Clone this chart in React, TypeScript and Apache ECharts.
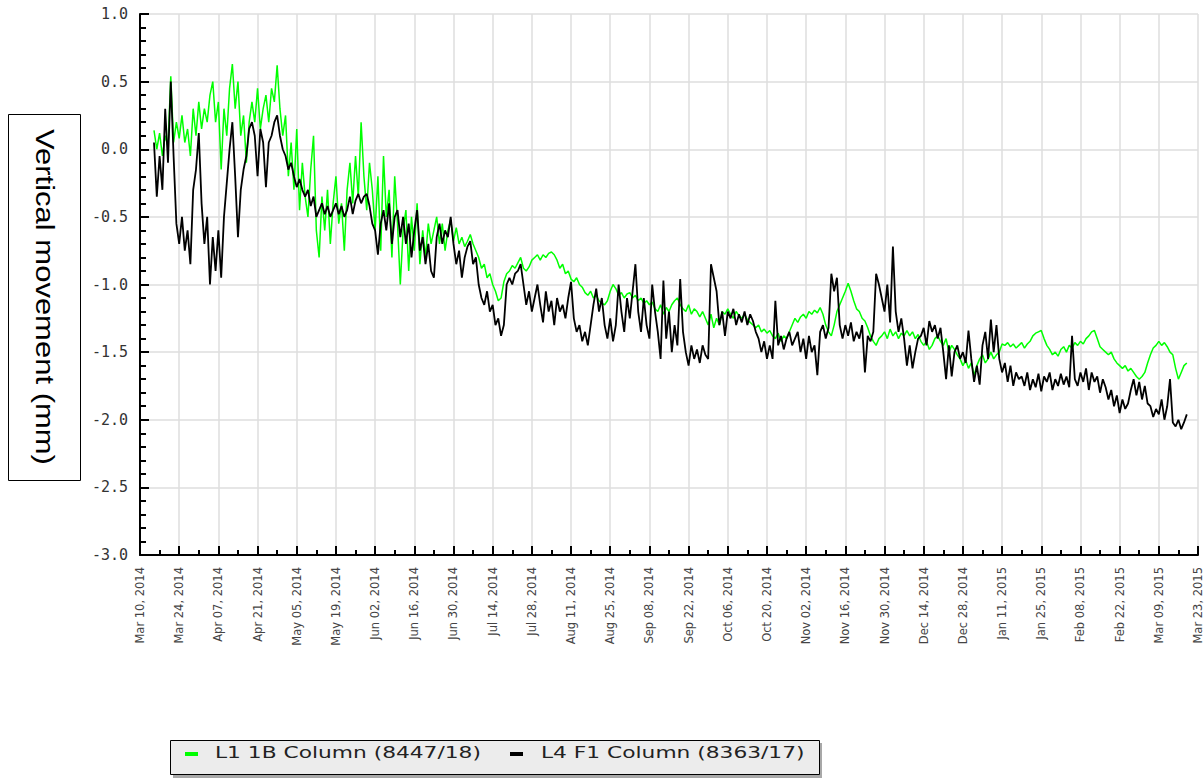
import React, { useEffect, useRef } from "react";
import * as echarts from "echarts";

// Tick labels of the date axis (one every 14 days, starting Mar 10, 2014)
const xTickLabels = [
  "Mar 10, 2014", "Mar 24, 2014", "Apr 07, 2014", "Apr 21, 2014", "May 05, 2014",
  "May 19, 2014", "Jun 02, 2014", "Jun 16, 2014", "Jun 30, 2014", "Jul 14, 2014",
  "Jul 28, 2014", "Aug 11, 2014", "Aug 25, 2014", "Sep 08, 2014", "Sep 22, 2014",
  "Oct 06, 2014", "Oct 20, 2014", "Nov 02, 2014", "Nov 16, 2014", "Nov 30, 2014",
  "Dec 14, 2014", "Dec 28, 2014", "Jan 11, 2015", "Jan 25, 2015", "Feb 08, 2015",
  "Feb 22, 2015", "Mar 09, 2015", "Mar 23, 2015",
];

const seriesNames = ["L1 1B Column (8447/18)", "L4 F1 Column (8363/17)"];
const seriesColors = ["#00ff00", "#000000"];

// first reading: day 5 after Mar 10, 2014 (one value per day)
const startDay = 5;

// L1 1B Column (green), mm
const l1Values = [
  0.14, 0.0, 0.12, -0.05, 0.1, 0.02, 0.54, 0.05, 0.2, 0.08,
  0.25, 0.05, 0.15, -0.05, 0.3, 0.1, 0.35, 0.15, 0.3, 0.2,
  0.4, 0.5, 0.2, 0.35, -0.15, 0.3, 0.1, 0.45, 0.63, 0.3,
  0.5, 0.1, 0.25, -0.1, 0.2, 0.35, 0.2, 0.45, 0.15, 0.3,
  0.4, 0.2, 0.45, 0.35, 0.62, 0.3, 0.1, 0.25, -0.2, 0.05,
  -0.3, 0.15, -0.45, -0.1, -0.35, -0.5, -0.15, 0.1, -0.6, -0.8,
  -0.35, -0.6, -0.3, -0.7, -0.4, -0.2, -0.55, -0.4, -0.75, -0.3,
  -0.1, -0.4, -0.05, -0.35, 0.2, -0.2, -0.45, -0.1, -0.3, -0.6,
  -0.2, -0.75, -0.05, -0.5, -0.3, -0.8, -0.2, -0.55, -1.0, -0.6,
  -0.45, -0.9, -0.5, -0.75, -0.4, -0.85, -0.6, -0.8, -0.55, -0.7,
  -0.6, -0.5, -0.7, -0.55, -0.75, -0.6, -0.52, -0.68, -0.58, -0.7,
  -0.65, -0.72, -0.68, -0.63, -0.7, -0.75, -0.8, -0.88, -0.85, -0.95,
  -0.92, -1.0, -1.05, -1.12, -1.1, -0.98, -0.92, -0.9, -0.86, -0.88,
  -0.84, -0.8, -0.88, -0.9, -0.87, -0.82, -0.8, -0.78, -0.82, -0.78,
  -0.8, -0.77, -0.76, -0.78, -0.82, -0.88, -0.85, -0.92, -0.9, -0.96,
  -0.98, -0.95, -1.0, -1.02, -1.06, -1.08, -1.05, -1.1, -1.08, -1.12,
  -1.14, -1.15, -1.12, -1.05, -1.0, -1.03, -1.08, -1.06, -1.1, -1.07,
  -1.06, -1.1, -1.08, -1.12, -1.1, -1.14, -1.12, -1.15, -1.13, -1.18,
  -1.2, -1.15, -1.22, -1.17, -1.2, -1.15, -1.12, -1.1, -1.15, -1.18,
  -1.2, -1.15, -1.22, -1.18, -1.2, -1.24, -1.2, -1.25, -1.3, -1.22,
  -1.32, -1.25, -1.3, -1.2, -1.22, -1.18, -1.22, -1.25, -1.2, -1.23,
  -1.25, -1.22, -1.26, -1.28, -1.3, -1.32, -1.3, -1.35, -1.33, -1.36,
  -1.34, -1.38, -1.4, -1.36, -1.42, -1.38, -1.4, -1.35, -1.3, -1.25,
  -1.28, -1.24, -1.22, -1.25, -1.2, -1.22, -1.19, -1.21, -1.17, -1.22,
  -1.3, -1.35, -1.38, -1.3, -1.2, -1.15, -1.1, -1.05, -0.99, -1.05,
  -1.12, -1.18, -1.2, -1.25, -1.27, -1.32, -1.38, -1.42, -1.45, -1.4,
  -1.38, -1.35, -1.4, -1.33, -1.38, -1.35, -1.4, -1.36, -1.38, -1.34,
  -1.38, -1.35, -1.4, -1.37, -1.42, -1.45, -1.42, -1.48, -1.45, -1.4,
  -1.38, -1.42, -1.45, -1.4, -1.5, -1.45, -1.48, -1.52, -1.55, -1.6,
  -1.56, -1.62, -1.58, -1.67, -1.6, -1.55, -1.52, -1.58, -1.55, -1.5,
  -1.55, -1.52, -1.5, -1.44, -1.45, -1.43, -1.46, -1.44, -1.47, -1.45,
  -1.43, -1.47, -1.44, -1.42, -1.38, -1.36, -1.35, -1.34, -1.4, -1.45,
  -1.48, -1.52, -1.5, -1.53, -1.48, -1.46, -1.5, -1.45, -1.47, -1.43,
  -1.45, -1.42, -1.44, -1.4, -1.38, -1.35, -1.34, -1.4, -1.46, -1.48,
  -1.5, -1.52, -1.5, -1.55, -1.58, -1.6, -1.62, -1.6, -1.64, -1.62,
  -1.65, -1.68, -1.7, -1.68, -1.65, -1.58, -1.52, -1.47, -1.45, -1.42,
  -1.45, -1.43, -1.46, -1.5, -1.52, -1.62, -1.7, -1.65, -1.6, -1.58,
];

// L4 F1 Column (black), mm
const l4Values = [
  0.05, -0.35, -0.05, -0.3, 0.3, -0.1, 0.5, -0.05, -0.55, -0.7,
  -0.5, -0.75, -0.6, -0.85, -0.3, -0.15, 0.12, -0.4, -0.7, -0.5,
  -1.0, -0.65, -0.9, -0.6, -0.95, -0.5, -0.25, 0.0, 0.2, -0.2,
  -0.65, -0.3, -0.15, -0.05, 0.15, 0.2, 0.1, -0.2, 0.15, 0.05,
  -0.28, 0.05, 0.1, 0.2, 0.25, 0.1, 0.0, -0.05, -0.15, -0.1,
  -0.2, -0.28, -0.22, -0.3, -0.35, -0.3, -0.42, -0.35, -0.5, -0.45,
  -0.4, -0.48, -0.42, -0.5, -0.45, -0.4, -0.48, -0.42, -0.5, -0.45,
  -0.35, -0.48, -0.38, -0.33, -0.4, -0.35, -0.33, -0.42, -0.55, -0.6,
  -0.78, -0.55, -0.45, -0.6, -0.4, -0.7, -0.5, -0.45, -0.65, -0.5,
  -0.7, -0.55, -0.8, -0.6, -0.45, -0.75, -0.65, -0.85, -0.7, -0.9,
  -0.95, -0.65, -0.55, -0.7, -0.6, -0.65, -0.5, -0.7, -0.85, -0.75,
  -0.95, -0.8, -0.72, -0.68, -0.85, -0.8, -1.0, -1.1, -1.15, -1.05,
  -1.2, -1.15, -1.3, -1.25, -1.38, -1.3, -1.0, -0.95, -1.0, -0.92,
  -0.9, -0.85, -1.0, -1.15, -1.05, -1.2, -1.1, -1.0, -1.15, -1.28,
  -1.05, -1.2, -1.12, -1.3, -1.1, -1.2, -1.15, -1.25, -1.1, -0.98,
  -1.25, -1.35, -1.3, -1.42, -1.35, -1.45, -1.3, -1.15, -1.03, -1.2,
  -1.1, -1.3, -1.4, -1.25, -1.42, -1.3, -1.0, -1.2, -1.35, -1.1,
  -1.25, -1.05, -0.85, -1.2, -1.35, -1.1, -1.3, -1.4, -1.0, -1.2,
  -1.35, -1.55, -0.97, -1.4, -1.2, -1.5, -1.3, -1.45, -0.96, -1.35,
  -1.5, -1.6, -1.45, -1.55, -1.48, -1.58, -1.45, -1.52, -1.55, -0.85,
  -0.95, -1.05, -1.3, -1.2, -1.38, -1.2, -1.25, -1.18, -1.3, -1.22,
  -1.28, -1.2, -1.3, -1.22, -1.27, -1.35, -1.4, -1.5, -1.42, -1.55,
  -1.45, -1.55, -1.12, -1.45, -1.38, -1.48, -1.4, -1.35, -1.45, -1.4,
  -1.35, -1.5, -1.4, -1.55, -1.38, -1.5, -1.45, -1.67, -1.35, -1.3,
  -1.4, -1.32, -0.92, -1.05, -0.95, -1.3, -1.4, -1.3, -1.38, -1.28,
  -1.42, -1.35, -1.4, -1.3, -1.65, -1.38, -1.42, -1.35, -0.92, -1.0,
  -1.1, -1.2, -1.0, -1.28, -0.72, -1.2, -1.35, -1.25, -1.4, -1.6,
  -1.45, -1.62, -1.5, -1.4, -1.38, -1.32, -1.45, -1.27, -1.35, -1.3,
  -1.4, -1.32, -1.5, -1.7, -1.45, -1.68, -1.5, -1.45, -1.55, -1.5,
  -1.58, -1.34, -1.55, -1.72, -1.6, -1.74, -1.45, -1.35, -1.55, -1.26,
  -1.5, -1.3, -1.55, -1.65, -1.58, -1.72, -1.6, -1.75, -1.65, -1.7,
  -1.68, -1.75, -1.65, -1.78, -1.7, -1.76, -1.66, -1.79, -1.68, -1.72,
  -1.65, -1.78, -1.7, -1.75, -1.66, -1.74, -1.68, -1.76, -1.38, -1.7,
  -1.75, -1.65, -1.72, -1.62, -1.78, -1.65, -1.72, -1.68, -1.8, -1.7,
  -1.76, -1.85, -1.78, -1.9, -1.82, -1.95, -1.85, -1.92, -1.88, -1.78,
  -1.7, -1.82, -1.72, -1.85, -1.75, -1.88, -1.9, -1.98, -1.92, -1.96,
  -1.85, -2.0, -1.9, -1.7, -2.02, -2.05, -2.0, -2.07, -2.02, -1.96,
];

const yAxisTitle = "Vertical movement (mm)";

export default function App() {
  const ref = useRef<HTMLDivElement>(null);

  useEffect(() => {
    if (!ref.current) return;
    const chart = echarts.init(ref.current, null, { renderer: "svg" });
    const toPairs = (vals: number[]) => vals.map((v, i) => [startDay + i, v]);

    const option: any = {
      animation: false,
      backgroundColor: "#ffffff",
      grid: { left: 140, right: 6, top: 14, bottom: 223 },
      xAxis: {
        type: "value",
        min: 0,
        max: (xTickLabels.length - 1) * 14,
        interval: 14,
        axisLine: { show: true, onZero: false, lineStyle: { color: "#000", width: 2 } },
        axisTick: { show: true, inside: true, length: 9, lineStyle: { color: "#000", width: 2 } },
        minorTick: { show: true, splitNumber: 2, length: 5, lineStyle: { color: "#000", width: 2 } },
        splitLine: { show: true, lineStyle: { color: "#dedede", width: 1.5 } },
        axisLabel: {
          rotate: 90,
          margin: 12,
          fontFamily: "DejaVu Sans",
          fontSize: 11.5,
          color: "#444",
          showMinLabel: true,
          showMaxLabel: true,
          formatter: (v: number) => xTickLabels[Math.round(v / 14)] ?? "",
        },
      },
      yAxis: {
        type: "value",
        min: -3,
        max: 1,
        interval: 0.5,
        axisLine: { show: true, onZero: false, lineStyle: { color: "#000", width: 2 } },
        axisTick: { show: true, inside: true, length: 9, lineStyle: { color: "#000", width: 2 } },
        minorTick: { show: true, splitNumber: 5, length: 6, lineStyle: { color: "#000", width: 2 } },
        splitLine: { show: true, lineStyle: { color: "#dedede", width: 1.5 } },
        axisLabel: {
          margin: 12,
          fontFamily: "DejaVu Sans Mono",
          fontSize: 15,
          color: "#333",
          formatter: (v: number) => v.toFixed(1),
        },
      },
      series: [
        {
          name: seriesNames[0],
          type: "line",
          data: toPairs(l1Values),
          showSymbol: false,
          lineStyle: { color: seriesColors[0], width: 1.5 },
          itemStyle: { color: seriesColors[0] },
        },
        {
          name: seriesNames[1],
          type: "line",
          data: toPairs(l4Values),
          showSymbol: false,
          lineStyle: { color: seriesColors[1], width: 1.8 },
          itemStyle: { color: seriesColors[1] },
        },
      ],
      graphic: [
        // y-axis title box
        {
          type: "rect",
          shape: { x: 8.5, y: 114.5, width: 72, height: 366 },
          style: { fill: "#ffffff", stroke: "#000", lineWidth: 1 },
        },
        {
          type: "text",
          x: 44,
          y: 297,
          rotation: -Math.PI / 2,
          scaleX: 1.24,
          style: {
            text: yAxisTitle,
            fontFamily: "Liberation Sans",
            fontSize: 25,
            fill: "#000",
            align: "center",
            verticalAlign: "middle",
          },
        },
        // legend
        {
          type: "rect",
          shape: { x: 173, y: 743, width: 649, height: 35 },
          style: { fill: "#a8a8a8" },
        },
        {
          type: "rect",
          shape: { x: 170.5, y: 740.5, width: 649, height: 34 },
          style: { fill: "#ececec", stroke: "#000", lineWidth: 1 },
        },
        {
          type: "rect",
          shape: { x: 185, y: 752, width: 13, height: 4 },
          style: { fill: seriesColors[0] },
        },
        {
          type: "text",
          x: 215,
          y: 753,
          scaleX: 1.36,
          style: {
            text: seriesNames[0],
            fontFamily: "DejaVu Sans",
            fontSize: 16,
            fill: "#222",
            align: "left",
            verticalAlign: "middle",
          },
        },
        {
          type: "rect",
          shape: { x: 510, y: 752, width: 13, height: 4 },
          style: { fill: seriesColors[1] },
        },
        {
          type: "text",
          x: 541,
          y: 753,
          scaleX: 1.36,
          style: {
            text: seriesNames[1],
            fontFamily: "DejaVu Sans",
            fontSize: 16,
            fill: "#222",
            align: "left",
            verticalAlign: "middle",
          },
        },
      ],
    };

    chart.setOption(option);
    return () => chart.dispose();
  }, []);

  return (
    <div
      ref={ref}
      style={{ position: "absolute", left: 0, top: 0, width: 1204, height: 778, background: "#fff" }}
    />
  );
}
